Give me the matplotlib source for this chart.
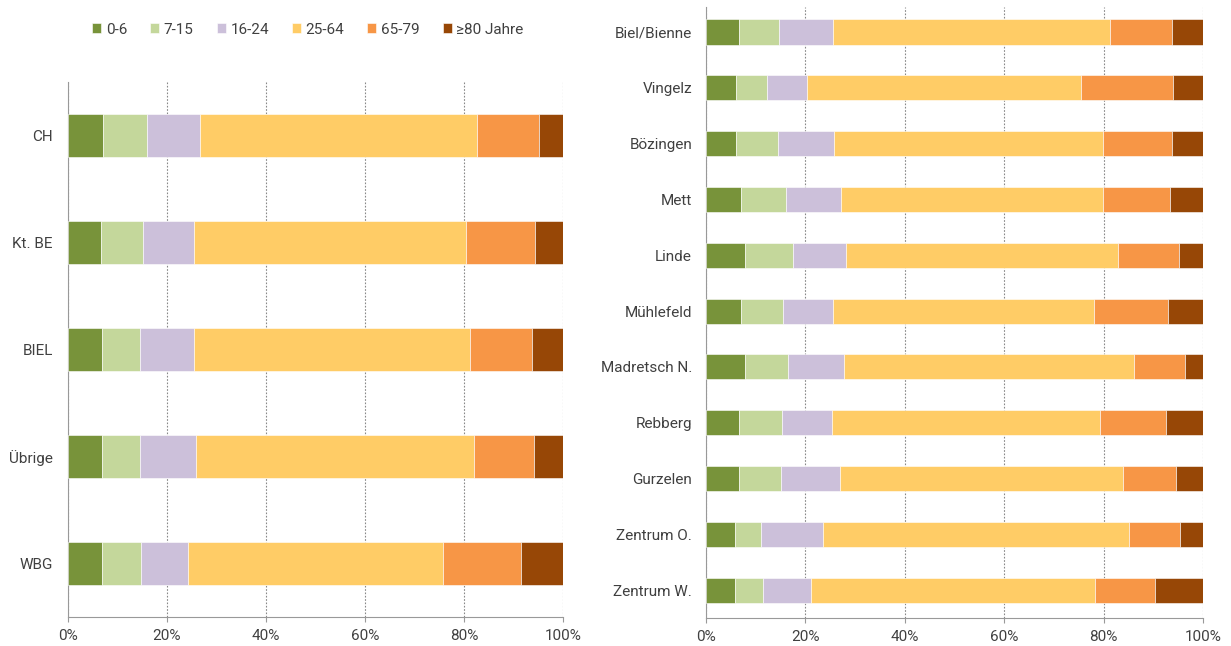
import matplotlib.pyplot as plt
import numpy as np
from matplotlib.ticker import PercentFormatter

plt.rcParams['font.family'] = ['Roboto', 'DejaVu Sans']

groups = ["0-6", "7-15", "16-24", "25-64", "65-79", "≥80 Jahre"]
colors = ["#78933A", "#C4D79B", "#CCC0DA", "#FFCC66", "#F79646", "#974706"]

# left: shares in % per age group
left_cats = ["CH", "Kt. BE", "BIEL", "Übrige", "WBG"]
left_0_6 = [7.0, 6.6, 6.8, 6.8, 6.8]
left_7_15 = [9.0, 8.5, 7.8, 7.8, 7.9]
left_16_24 = [10.7, 10.3, 10.9, 11.2, 9.5]
left_25_64 = [55.9, 55.1, 55.8, 56.3, 51.6]
left_65_79 = [12.6, 13.8, 12.4, 12.0, 15.7]
left_80 = [4.8, 5.7, 6.3, 5.9, 8.5]

right_cats = ["Biel/Bienne", "Vingelz", "Bözingen", "Mett", "Linde", "Mühlefeld",
              "Madretsch N.", "Rebberg", "Gurzelen", "Zentrum O.", "Zentrum W."]
right_0_6 = [6.7, 6.1, 6.1, 7.0, 7.9, 7.1, 7.9, 6.7, 6.7, 5.8, 5.9]
right_7_15 = [7.9, 6.2, 8.3, 9.1, 9.6, 8.3, 8.7, 8.5, 8.3, 5.2, 5.5]
right_16_24 = [10.9, 8.0, 11.3, 11.0, 10.6, 10.1, 11.1, 10.1, 12.0, 12.5, 9.7]
right_25_64 = [55.8, 55.1, 54.2, 52.7, 54.9, 52.6, 58.5, 53.9, 56.9, 61.7, 57.2]
right_65_79 = [12.4, 18.6, 13.8, 13.5, 12.2, 14.8, 10.2, 13.4, 10.6, 10.1, 12.0]
right_80 = [6.3, 6.0, 6.3, 6.7, 4.8, 7.1, 3.6, 7.4, 5.5, 4.7, 9.7]

left_data = [left_0_6, left_7_15, left_16_24, left_25_64, left_65_79, left_80]
right_data = [right_0_6, right_7_15, right_16_24, right_25_64, right_65_79, right_80]

fig = plt.figure(figsize=(12.31, 6.46), dpi=100)
ax1 = fig.add_axes([0.0552, 0.0449, 0.4021, 0.828])
ax2 = fig.add_axes([0.5735, 0.0433, 0.4037, 0.946])

txt = "#404040"


def stacked(ax, cats, data, height, ylim, pad):
    y = np.arange(len(cats))
    left = np.zeros(len(cats))
    for vals, c, lab in zip(data, colors, groups):
        ax.barh(y, vals, left=left, height=height, color=c, label=lab,
                edgecolor="white", linewidth=0.4, zorder=3)
        left += np.array(vals)
    ax.set_yticks(y)
    ax.set_yticklabels(cats)
    ax.set_ylim(ylim)
    ax.set_xlim(0, 100)
    ax.set_xticks([0, 20, 40, 60, 80, 100])
    ax.xaxis.set_major_formatter(PercentFormatter(decimals=0))
    ax.grid(axis="x", color="#888888", linestyle=(0, (1.5, 1.5)), linewidth=0.8, zorder=0)
    for s in ["top", "right"]:
        ax.spines[s].set_visible(False)
    for s in ["left", "bottom"]:
        ax.spines[s].set_color("#999999")
    ax.tick_params(axis="y", length=0, pad=pad, labelsize=11, labelcolor=txt)
    ax.tick_params(axis="x", length=3.6, pad=5, color="#999999", labelsize=11, labelcolor=txt)


stacked(ax1, left_cats, left_data, 0.40, (4.5, -0.5), 11)
stacked(ax2, right_cats, right_data, 0.45, (10.5, -0.45), 10)

h, l = ax1.get_legend_handles_labels()
fig.legend(h, l, loc="center", bbox_to_anchor=(0.25, 0.954), ncol=6, frameon=False,
           fontsize=11, labelcolor=txt, handlelength=0.6, handleheight=0.6,
           handletextpad=0.3, columnspacing=1.5)

fig.savefig("out.png", dpi=100)
